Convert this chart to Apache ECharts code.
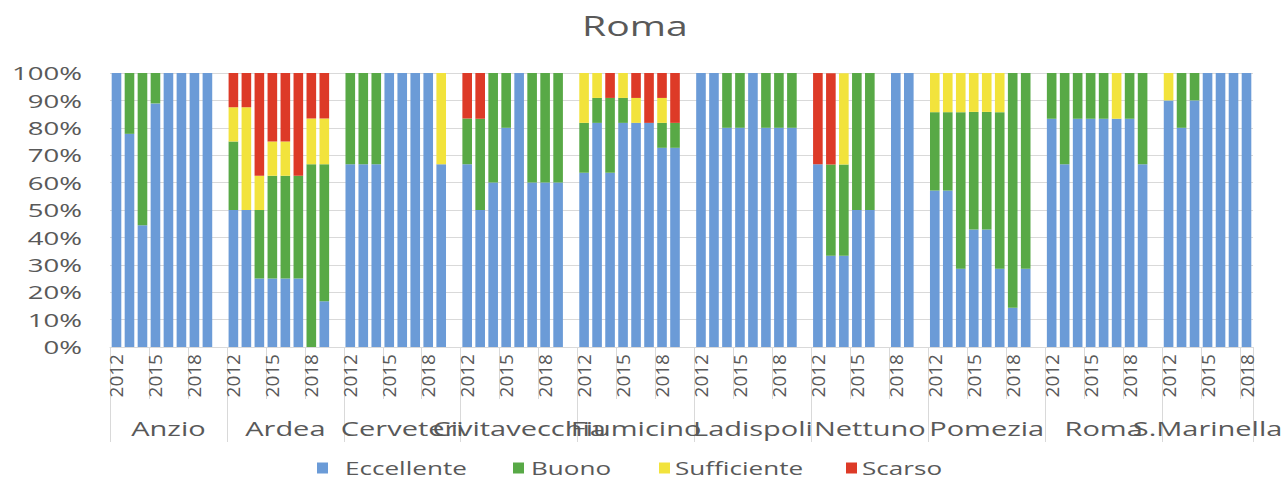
<!DOCTYPE html>
<html>
<head>
    <meta charset="utf-8">
    <title>Roma</title>
    <script src="https://cdn.jsdelivr.net/npm/echarts@6/dist/echarts.min.js"></script>
</head>
<body style="margin:0">
<div id="main" style="width:1282px;height:477px;"></div>

<script type="text/javascript">
    // comuni e anni (S.Marinella ha solo 2012-2018)
    var comuni = ['Anzio', 'Ardea', 'Cerveteri', 'Civitavecchia', 'Fiumicino',
        'Ladispoli', 'Nettuno', 'Pomezia', 'Roma', 'S.Marinella'];
    var anni = ['2012', '2013', '2014', '2015', '2016', '2017', '2018', '2019', '2020'];
    var anniSM = ['2012', '2013', '2014', '2015', '2016', '2017', '2018'];
    var classi = ['Eccellente', 'Buono', 'Sufficiente', 'Scarso'];

    // percentuali per anno, un blocco per comune
    var eccellente = [
        100, 77.8, 44.4, 88.9, 100, 100, 100, 100, null,   // Anzio
        50, 50, 25, 25, 25, 25, 0, 16.7, null,             // Ardea
        66.7, 66.7, 66.7, 100, 100, 100, 100, 66.7, null,  // Cerveteri
        66.7, 50, 60, 80, 100, 60, 60, 60, null,           // Civitavecchia
        63.6, 81.8, 63.6, 81.8, 81.8, 81.8, 72.7, 72.7, null, // Fiumicino
        100, 100, 80, 80, 100, 80, 80, 80, null,           // Ladispoli
        66.7, 33.3, 33.3, 50, 50, null, 100, 100, null,    // Nettuno
        57.1, 57.1, 28.6, 42.9, 42.9, 28.6, 14.3, 28.6, null, // Pomezia
        83.3, 66.7, 83.3, 83.3, 83.3, 83.3, 83.3, 66.7, null, // Roma
        90, 80, 90, 100, 100, 100, 100                     // S.Marinella
    ];
    var buono = [
        0, 22.2, 55.6, 11.1, 0, 0, 0, 0, null,
        25, 0, 25, 37.5, 37.5, 37.5, 66.7, 50, null,
        33.3, 33.3, 33.3, 0, 0, 0, 0, 0, null,
        16.7, 33.3, 40, 20, 0, 40, 40, 40, null,
        18.2, 9.1, 27.3, 9.1, 0, 0, 9.1, 9.1, null,
        0, 0, 20, 20, 0, 20, 20, 20, null,
        0, 33.3, 33.3, 50, 50, null, 0, 0, null,
        28.6, 28.6, 57.1, 42.9, 42.9, 57.1, 85.7, 71.4, null,
        16.7, 33.3, 16.7, 16.7, 16.7, 0, 16.7, 33.3, null,
        0, 20, 10, 0, 0, 0, 0
    ];
    var sufficiente = [
        0, 0, 0, 0, 0, 0, 0, 0, null,
        12.5, 37.5, 12.5, 12.5, 12.5, 0, 16.7, 16.7, null,
        0, 0, 0, 0, 0, 0, 0, 33.3, null,
        0, 0, 0, 0, 0, 0, 0, 0, null,
        18.2, 9.1, 0, 9.1, 9.1, 0, 9.1, 0, null,
        0, 0, 0, 0, 0, 0, 0, 0, null,
        0, 0, 33.3, 0, 0, null, 0, 0, null,
        14.3, 14.3, 14.3, 14.3, 14.3, 14.3, 0, 0, null,
        0, 0, 0, 0, 0, 16.7, 0, 0, null,
        10, 0, 0, 0, 0, 0, 0
    ];
    var scarso = [
        0, 0, 0, 0, 0, 0, 0, 0, null,
        12.5, 12.5, 37.5, 25, 25, 37.5, 16.7, 16.7, null,
        0, 0, 0, 0, 0, 0, 0, 0, null,
        16.7, 16.7, 0, 0, 0, 0, 0, 0, null,
        0, 0, 9.1, 0, 9.1, 18.2, 9.1, 18.2, null,
        0, 0, 0, 0, 0, 0, 0, 0, null,
        33.3, 33.3, 0, 0, 0, null, 0, 0, null,
        0, 0, 0, 0, 0, 0, 0, 0, null,
        0, 0, 0, 0, 0, 0, 0, 0, null,
        0, 0, 0, 0, 0, 0, 0
    ];
    var colori = ['#6b9bd7', '#58a946', '#f2e33c', '#dd3a27'];

    // asse a due livelli: anni sotto, comuni piu' in basso
    var catAnni = [], catComuni = [], inizioGruppo = {}, centroGruppo = {};
    comuni.forEach(function (c) {
        var lista = c === 'S.Marinella' ? anniSM : anni;
        inizioGruppo[catAnni.length] = true;
        centroGruppo[catAnni.length + (lista.length === 9 ? 4 : 3)] = true;
        lista.forEach(function (a) {
            catAnni.push(a);
            catComuni.push(c);
        });
    });

    var testo = '#595959';
    var font = "'Open Sans', sans-serif";
    var legendaX = [317, 513, 659, 846];
    var legendaGap = [12, 2, 0, 0];
    var myChart = echarts.init(document.getElementById('main'), null, {renderer: 'svg'});

    var option = {
        backgroundColor: '#ffffff',
        textStyle: {fontFamily: font},
        title: {
            text: 'Roma',
            left: 582,
            top: 12,
            padding: 0,
            textStyle: {color: testo, fontSize: 27, fontWeight: 'normal', fontFamily: font}
        },
        legend: classi.map(function (c, i) {
            return {
                data: [c],
                left: legendaX[i],
                top: 459,
                padding: 0,
                itemWidth: 11,
                itemHeight: 11,
                icon: 'rect',
                textStyle: {
                    color: testo, fontSize: 18, fontFamily: font, width: 130,
                    padding: [0, 0, 0, legendaGap[i]]
                }
            };
        }),
        grid: {left: 110, right: 29, top: 73, bottom: 130, outerBoundsMode: 'none'},
        xAxis: [
            {
                type: 'category',
                data: catAnni,
                axisLine: {show: true, lineStyle: {color: '#d9d9d9'}},
                axisTick: {
                    show: true,
                    length: 52,
                    interval: function (i) { return i % 3 === 0; },
                    lineStyle: {color: '#d9d9d9'}
                },
                axisLabel: {interval: 2, rotate: 90, margin: 7, color: testo, fontSize: 19, fontFamily: font}
            },
            {
                type: 'category',
                data: catComuni,
                position: 'bottom',
                axisLine: {show: false},
                axisTick: {
                    show: true,
                    length: 95,
                    interval: function (i) { return !!inizioGruppo[i]; },
                    lineStyle: {color: '#d9d9d9'}
                },
                axisLabel: {
                    interval: function (i) { return !!centroGruppo[i]; },
                    margin: 71,
                    color: testo,
                    fontSize: 20,
                    fontFamily: font
                }
            }
        ],
        yAxis: {
            type: 'value',
            min: 0,
            max: 100,
            interval: 10,
            axisLine: {show: false},
            axisTick: {show: false},
            axisLabel: {formatter: '{value}%', color: testo, fontSize: 19, margin: 28, fontFamily: font},
            splitLine: {lineStyle: {color: '#d9d9d9'}}
        },
        series: [eccellente, buono, sufficiente, scarso].map(function (d, i) {
            return {
                name: classi[i],
                type: 'bar',
                stack: 'tot',
                barCategoryGap: '26%',
                itemStyle: {color: colori[i]},
                data: d
            };
        }),
        animation: false
    };

    myChart.setOption(option);

    // il grafico originale ha i testi orizzontali allargati: li stiro in x
    // attorno al loro punto di ancoraggio (le etichette ruotate restano come sono)
    function stiraTesti() {
        var sx = 1.45;
        document.querySelectorAll('#main svg text').forEach(function (el) {
            if (el.getAttribute('data-orig') === null) {
                el.setAttribute('data-orig', el.getAttribute('transform') || '');
            }
            var orig = el.getAttribute('data-orig');
            if (/rotate/.test(orig)) return;
            if (/matrix/.test(orig)) {
                var n = orig.match(/-?[\d.]+(e-?\d+)?/g);
                if (n && Math.abs(parseFloat(n[1])) > 0.01) return;
            }
            var x = parseFloat(el.getAttribute('x')) || 0;
            el.setAttribute('transform', orig + ' translate(' + x + ' 0) scale(' + sx + ' 1) translate(' + (-x) + ' 0)');
        });
    }
    myChart.on('finished', stiraTesti);
    stiraTesti();
</script>
</body>
</html>
